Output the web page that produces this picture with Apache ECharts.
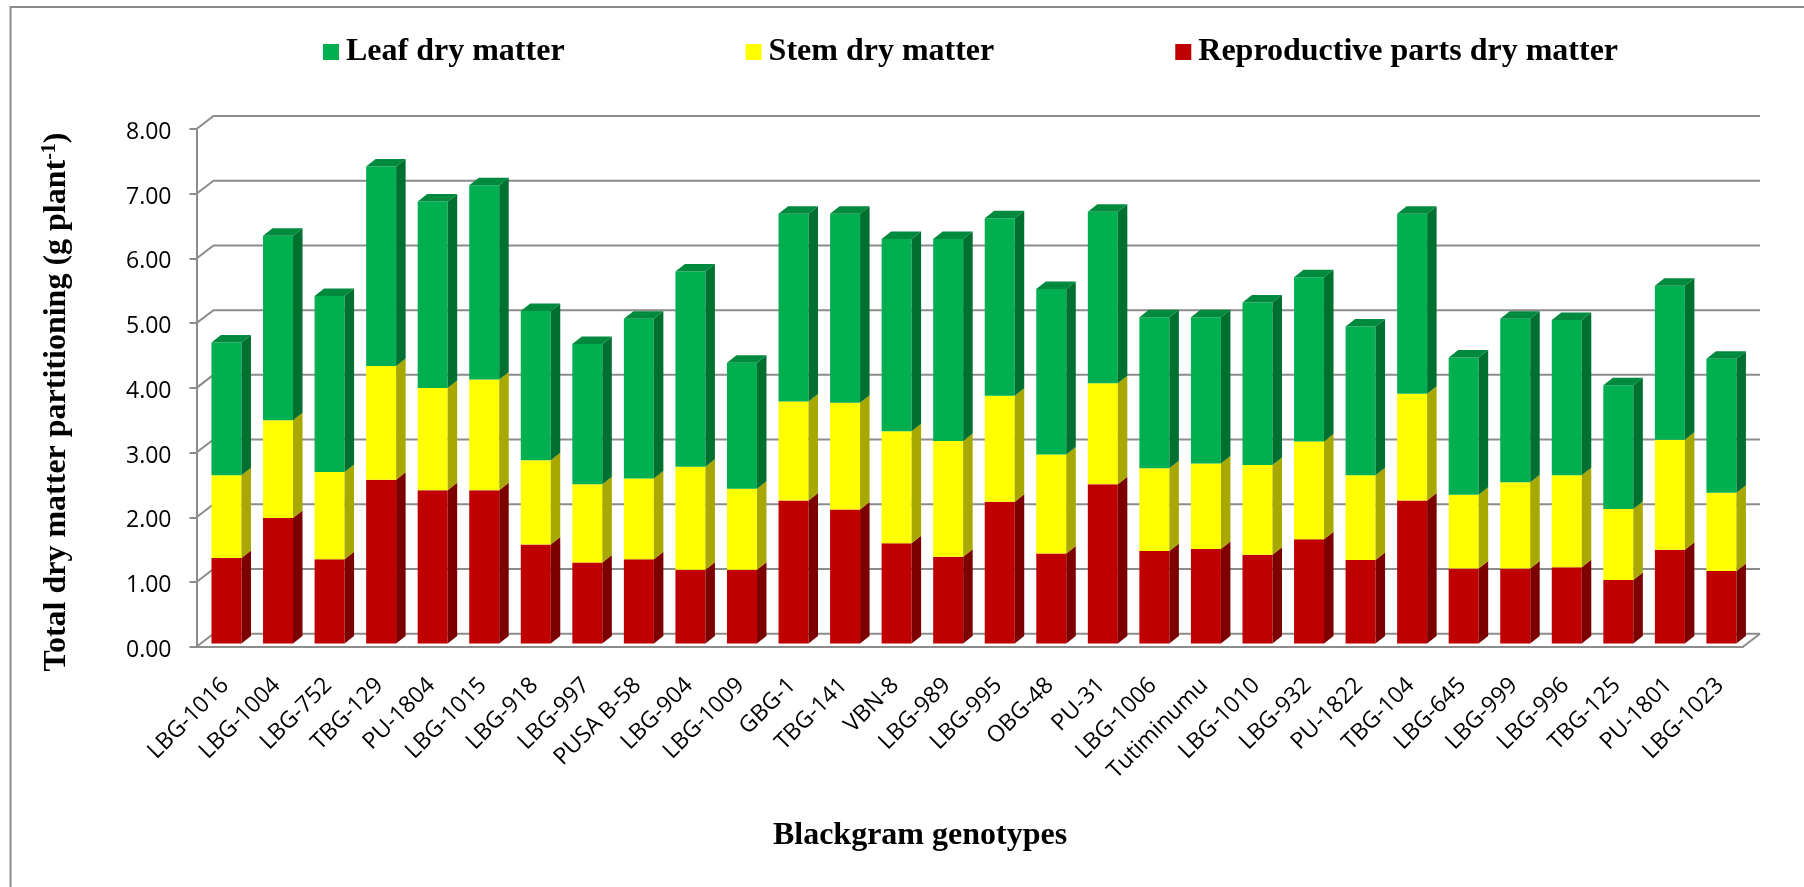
<!DOCTYPE html>
<html>
<head>
<meta charset="utf-8">
<title>Blackgram dry matter partitioning</title>
<style>
html, body { margin: 0; padding: 0; background: #fff; }
#chart { width: 1804px; height: 887px; }
</style>
<script src="https://cdn.jsdelivr.net/npm/echarts@6/dist/echarts.min.js"></script>
</head>
<body>
<div id="chart"></div>
<script>
var genotypes = ['LBG-1016','LBG-1004','LBG-752','TBG-129','PU-1804','LBG-1015','LBG-918','LBG-997','PUSA B-58','LBG-904',
	'LBG-1009','GBG-1','TBG-141','VBN-8','LBG-989','LBG-995','OBG-48','PU-31','LBG-1006','Tutiminumu',
	'LBG-1010','LBG-932','PU-1822','TBG-104','LBG-645','LBG-999','LBG-996','TBG-125','PU-1801','LBG-1023'];

var reproductive = [1.32,1.94,1.30,2.53,2.37,2.37,1.53,1.25,1.30,1.14,
	1.14,2.21,2.07,1.55,1.34,2.19,1.39,2.46,1.43,1.46,
	1.37,1.61,1.29,2.21,1.16,1.16,1.18,0.98,1.45,1.12];
var stem = [1.28,1.51,1.35,1.76,1.58,1.71,1.30,1.21,1.25,1.59,
	1.25,1.53,1.65,1.73,1.79,1.64,1.53,1.56,1.28,1.32,
	1.39,1.51,1.31,1.65,1.14,1.33,1.42,1.10,1.70,1.21];
var leaf = [2.05,2.85,2.72,3.08,2.88,3.00,2.31,2.17,2.47,3.02,
	1.95,2.90,2.92,2.97,3.12,2.74,2.56,2.65,2.33,2.26,
	2.51,2.54,2.30,2.78,2.12,2.53,2.40,1.91,2.38,2.07];

var yTicks = [0,1,2,3,4,5,6,7,8];
var fontSerif = '"Liberation Serif", serif';
var fontSans = '"Open Sans", sans-serif';
var lineGrey = '#8c8c8c';

// bar offsets to fake the excel 3d look
var barW = 30, barShift = 4.2, barLift = 3.2, sideX = 9.5, sideY = 7.5;
var wallX = 17, wallY = 13;

function buildStack(values, lower) {
	var out = [];
	for (var i = 0; i < values.length; i++) {
		var start = lower ? lower[i][2] : 0;
		out.push([i, start, +(start + values[i]).toFixed(2)]);
	}
	return out;
}

var redData = buildStack(reproductive);
var stemData = buildStack(stem, redData);
var leafData = buildStack(leaf, stemData);

function polygon(points, color) {
	return { type: 'polygon', shape: { points: points }, style: { fill: color }, silent: true };
}

function barRenderer(front, side, top) {
	return function (params, api) {
		var low = api.coord([api.value(0), api.value(1)]);
		var high = api.coord([api.value(0), api.value(2)]);
		var x0 = low[0] + barShift - barW / 2;
		var x1 = x0 + barW;
		var y0 = low[1] - barLift;
		var y1 = high[1] - barLift;
		var shapes = [
			polygon([[x0, y0], [x1, y0], [x1, y1], [x0, y1]], front),
			polygon([[x1, y0], [x1 + sideX, y0 - sideY], [x1 + sideX, y1 - sideY], [x1, y1]], side)
		];
		if (top) {
			shapes.push(polygon([[x0, y1], [x1, y1], [x1 + sideX, y1 - sideY], [x0 + sideX, y1 - sideY]], top));
		}
		return { type: 'group', children: shapes };
	};
}

// back wall lines + the little diagonals coming off the value axis
function wallRenderer(params, api) {
	var box = params.coordSys;
	var y = api.coord([0, api.value(0)])[1];
	var left = box.x;
	var right = box.x + box.width;
	var kids = [{
		type: 'polyline',
		shape: { points: [[left, y], [left + wallX, y - wallY], [right + wallX, y - wallY]] },
		style: { stroke: lineGrey, lineWidth: 2, fill: null },
		silent: true
	}];
	if (api.value(0) === 0) {
		kids.push({
			type: 'line',
			shape: { x1: right, y1: y, x2: right + wallX, y2: y - wallY },
			style: { stroke: lineGrey, lineWidth: 2 },
			silent: true
		});
	}
	return { type: 'group', children: kids };
}

var option = {
	backgroundColor: '#fff',
	animation: false,
	legend: {
		left: 323,
		top: 36,
		padding: 0,
		icon: 'rect',
		itemWidth: 16,
		itemHeight: 16,
		itemGap: 181,
		selectedMode: false,
		data: ['Leaf dry matter', 'Stem dry matter', 'Reproductive parts dry matter'],
		textStyle: { fontFamily: fontSerif, fontWeight: 'bold', fontSize: 32, color: '#000', padding: [0, 0, 0, 2] }
	},
	grid: { left: 196.5, right: 61, top: 129, bottom: 240.3 },
	xAxis: {
		type: 'category',
		data: genotypes,
		axisLine: { show: true, lineStyle: { color: lineGrey, width: 2 } },
		axisTick: { show: false },
		axisLabel: { interval: 0, rotate: 45, margin: 38, padding: [0, -4, 0, 0], fontFamily: fontSans, fontSize: 23, color: '#000' }
	},
	yAxis: {
		type: 'value',
		min: 0,
		max: 8,
		interval: 1,
		axisLine: { show: true, lineStyle: { color: lineGrey, width: 2 } },
		axisTick: { show: true, length: 7, lineStyle: { color: lineGrey, width: 2 } },
		splitLine: { show: false },
		axisLabel: {
			margin: 25,
			formatter: function (v) { return '{v|' + v.toFixed(2) + '}'; },
			rich: {
				v: { fontFamily: fontSans, fontSize: 23, color: '#000', padding: [7, 0, 0, 0] }
			}
		}
	},
	graphic: [
		{
			type: 'polyline',
			shape: { points: [[10.5, 887], [10.5, 7], [1804, 7]] },
			style: { fill: null, stroke: lineGrey, lineWidth: 2 },
			silent: true
		},
		{
			type: 'text',
			x: 57,
			y: 402,
			rotation: Math.PI / 2,
			style: {
				text: '{m|Total dry matter partitioning (g plant}{s|-1}{m|)}',
				align: 'center',
				verticalAlign: 'middle',
				rich: {
					m: { fontFamily: fontSerif, fontWeight: 'bold', fontSize: 32, fill: '#000' },
					s: { fontFamily: fontSerif, fontWeight: 'bold', fontSize: 20, fill: '#000', padding: [0, 0, 14, 0] }
				}
			}
		},
		{
			type: 'text',
			x: 920,
			y: 836,
			style: {
				text: 'Blackgram genotypes',
				align: 'center',
				verticalAlign: 'middle',
				fontFamily: fontSerif,
				fontWeight: 'bold',
				fontSize: 32,
				fill: '#000'
			}
		}
	],
	series: [
		{
			name: 'wall',
			type: 'custom',
			renderItem: wallRenderer,
			data: yTicks,
			encode: { y: 0 },
			z: 1,
			clip: false
		},
		{
			name: 'Reproductive parts dry matter',
			type: 'custom',
			renderItem: barRenderer('#C00000', '#7C0000'),
			itemStyle: { color: '#C00000' },
			data: redData,
			z: 2,
			clip: false
		},
		{
			name: 'Stem dry matter',
			type: 'custom',
			renderItem: barRenderer('#FFFF00', '#A8A800'),
			itemStyle: { color: '#FFFF00' },
			data: stemData,
			z: 2,
			clip: false
		},
		{
			name: 'Leaf dry matter',
			type: 'custom',
			renderItem: barRenderer('#00B050', '#007030', '#008A3E'),
			itemStyle: { color: '#00B050' },
			data: leafData,
			z: 2,
			clip: false
		}
	]
};

var chart = echarts.init(document.getElementById('chart'));
chart.setOption(option);
</script>
</body>
</html>
